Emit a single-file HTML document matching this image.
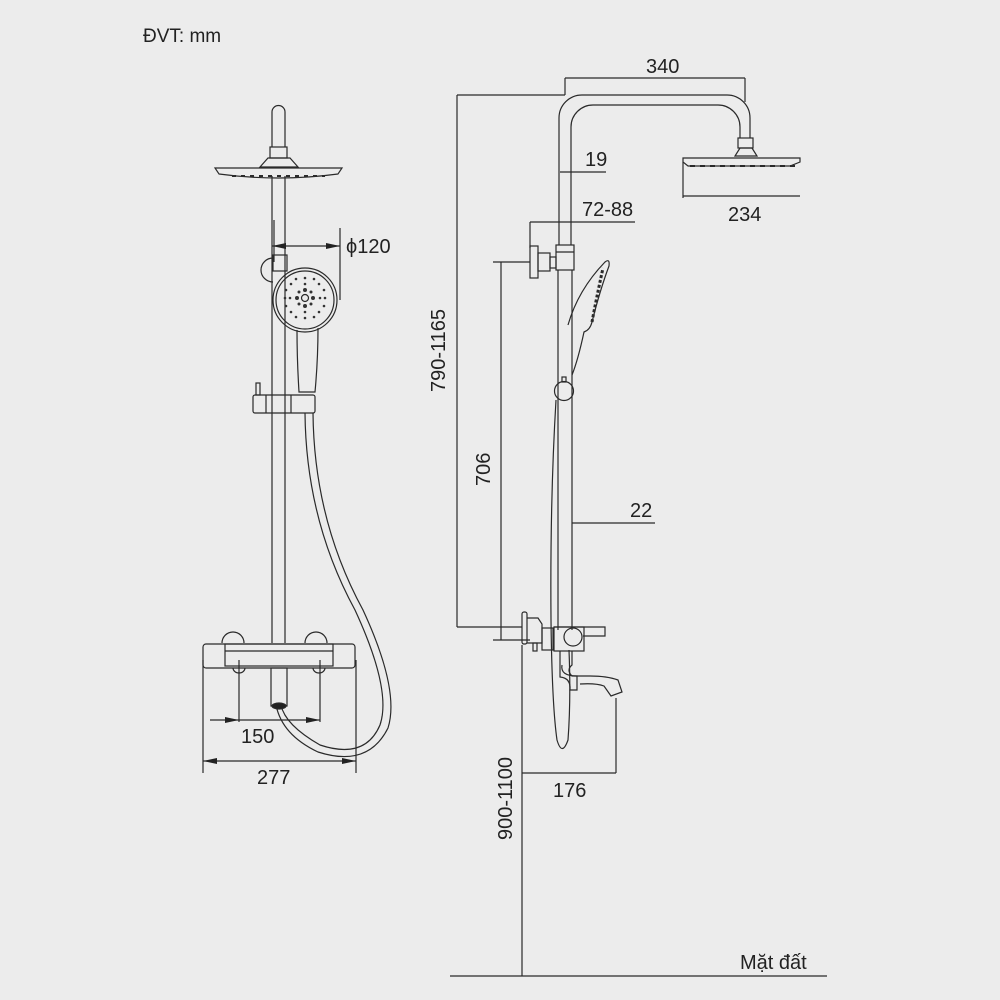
<!DOCTYPE html>
<html><head><meta charset="utf-8"><style>
html,body{margin:0;padding:0;background:#ececec}
svg{display:block}
text{font-family:"Liberation Sans",sans-serif;fill:#222}
</style></head><body>
<svg width="1000" height="1000" viewBox="0 0 1000 1000" xmlns="http://www.w3.org/2000/svg">
<rect width="1000" height="1000" fill="#ececec"/>
<text x="143" y="42" font-size="19">ĐVT: mm</text>
<g fill="none" stroke="#2a2a2a" stroke-width="1.2">
<!-- LEFT VIEW -->
<path d="M272 148 V112 a6.5 6.5 0 0 1 13 0 V148"/>
<rect x="270" y="147" width="17" height="11" fill="#ececec"/>
<path d="M268 158 L290 158 L298 167 L260 167 Z"/>
<path d="M215 168 H342 L338 174 Q278 182 219 174 Z"/>
<path d="M232 176 H325" stroke-dasharray="4 5" stroke-width="2"/>
<line x1="272" y1="176" x2="272" y2="643"/>
<line x1="285" y1="176" x2="285" y2="643"/>
<line x1="274" y1="220" x2="274" y2="262"/>
<!-- holder -->
<path d="M273 258 a12 12 0 0 0 0 24"/>
<rect x="273" y="255" width="14" height="16"/>
<!-- hand shower -->
<circle cx="305" cy="300" r="32"/>
<circle cx="305" cy="300" r="29"/>
<path d="M297 330 Q297 360 299 392 L315 392 Q318 360 318 328"/>
<circle cx="305" cy="298" r="3.5"/>
<g fill="#333" stroke="none">
<circle cx="305" cy="290" r="2"/><circle cx="305" cy="306" r="2"/><circle cx="297" cy="298" r="2"/><circle cx="313" cy="298" r="2"/>
<circle cx="299" cy="292" r="1.5"/><circle cx="311" cy="292" r="1.5"/><circle cx="299" cy="304" r="1.5"/><circle cx="311" cy="304" r="1.5"/>
<circle cx="305" cy="278" r="1.3"/><circle cx="305" cy="284" r="1.3"/><circle cx="305" cy="312" r="1.3"/><circle cx="305" cy="318" r="1.3"/>
<circle cx="285" cy="298" r="1.3"/><circle cx="290" cy="298" r="1.3"/><circle cx="320" cy="298" r="1.3"/><circle cx="325" cy="298" r="1.3"/>
<circle cx="291" cy="284" r="1.3"/><circle cx="319" cy="284" r="1.3"/><circle cx="291" cy="312" r="1.3"/><circle cx="319" cy="312" r="1.3"/>
<circle cx="296" cy="279" r="1.3"/><circle cx="314" cy="279" r="1.3"/><circle cx="286" cy="290" r="1.3"/><circle cx="324" cy="290" r="1.3"/>
<circle cx="286" cy="306" r="1.3"/><circle cx="324" cy="306" r="1.3"/><circle cx="296" cy="317" r="1.3"/><circle cx="314" cy="317" r="1.3"/>
</g>
<!-- slider -->
<rect x="253" y="395" width="62" height="18" rx="2"/>
<line x1="266" y1="395" x2="266" y2="413"/><line x1="291" y1="395" x2="291" y2="413"/>
<rect x="256" y="383" width="4" height="12"/>
<!-- hose -->
<path d="M305 413 Q306 520 355 610 Q392 690 380 725 Q365 760 320 745 Q285 725 281 705"/>
<path d="M313 413 Q314 520 363 610 Q400 690 388 728 Q368 768 318 752 Q282 735 276 705"/>
<!-- thermostat -->
<path d="M222 643 a11 11 0 0 1 22 0"/><path d="M305 643 a11 11 0 0 1 22 0"/>
<rect x="203" y="644" width="152" height="24" rx="3"/>
<rect x="225" y="644" width="108" height="22"/>
<line x1="225" y1="651" x2="333" y2="651"/>
<path d="M233 668 a6 5 0 0 0 12 0"/><path d="M313 668 a6 5 0 0 0 12 0"/>
<rect x="271" y="668" width="16" height="38"/>
<ellipse cx="279" cy="706" rx="7" ry="3" fill="#222"/>
<!-- left dims -->
<line x1="272" y1="246" x2="340" y2="246"/>
<line x1="340" y1="228" x2="340" y2="300"/>
<line x1="239" y1="660" x2="239" y2="722"/>
<line x1="320" y1="660" x2="320" y2="722"/>
<line x1="210" y1="720" x2="320" y2="720"/>
<line x1="203" y1="660" x2="203" y2="773"/>
<line x1="356" y1="660" x2="356" y2="773"/>
<line x1="203" y1="761" x2="356" y2="761"/>
<!-- RIGHT VIEW -->
<path d="M559 245 V118 a23 23 0 0 1 23 -23 H727 a23 23 0 0 1 23 23 V138"/>
<path d="M571 245 V127 a22 22 0 0 1 22 -22 H718 a22 22 0 0 1 22 22 V138"/>
<rect x="738" y="138" width="15" height="10"/>
<path d="M740 148 H752 L757 156 H735 Z"/>
<path d="M683 158 H800 V162 L790 166 H688 L683 162 Z"/>
<path d="M690 166 H795" stroke-dasharray="5 5" stroke-width="2"/>
<line x1="683" y1="162" x2="683" y2="198"/>
<line x1="683" y1="196" x2="800" y2="196"/>
<!-- valve top -->
<rect x="530" y="246" width="8" height="32"/>
<rect x="538" y="253" width="12" height="18"/>
<rect x="550" y="257" width="6" height="11"/>
<rect x="556" y="245" width="18" height="25"/>
<line x1="556" y1="252" x2="574" y2="252"/>
<line x1="558" y1="270" x2="558" y2="630"/>
<line x1="572" y1="270" x2="572" y2="630"/>
<!-- hand shower side -->
<path d="M568 325 Q578 290 605 262 Q610 258 609 266 Q600 290 592 322 Q590 330 584 332 Q578 360 572 375"/>
<path d="M592 322 Q596 300 603 268" stroke-dasharray="3 2" stroke-width="3"/>
<circle cx="564" cy="391" r="9.5"/>
<rect x="562" y="377" width="4" height="5"/>
<path d="M556 400 Q550 500 551 620 Q552 705 557 740 Q562 757 568 740 Q571 700 569 650"/>
<!-- bottom valve -->
<rect x="522" y="612" width="5" height="32" rx="2"/>
<path d="M527 618 H538 L542 624 V643 H527"/>
<rect x="542" y="628" width="11" height="22"/>
<rect x="533" y="643" width="4" height="8"/>
<path d="M554 627 H605 V636 H583"/>
<rect x="554" y="627" width="30" height="24"/>
<circle cx="573" cy="637" r="9"/>
<path d="M560 651 V677 Q571 678 570 690 H577 V676 Q560 676 562 665"/>
<path d="M572 651 V665 Q566 670 572 676 H590 Q607 676 618 680 L622 692 L611 696 L604 686 Q596 683 580 684"/>
<!-- right dims -->
<line x1="565" y1="78" x2="745" y2="78"/>
<line x1="565" y1="78" x2="565" y2="95"/>
<line x1="745" y1="78" x2="745" y2="102"/>
<line x1="560" y1="172" x2="606" y2="172"/>
<line x1="530" y1="222" x2="635" y2="222"/>
<line x1="530" y1="222" x2="530" y2="248"/>
<line x1="457" y1="95" x2="565" y2="95"/>
<line x1="457" y1="95" x2="457" y2="627"/>
<line x1="457" y1="627" x2="522" y2="627"/>
<line x1="493" y1="262" x2="530" y2="262"/>
<line x1="501" y1="262" x2="501" y2="640"/>
<line x1="493" y1="640" x2="530" y2="640"/>
<line x1="572" y1="523" x2="655" y2="523"/>
<line x1="522" y1="645" x2="522" y2="976"/>
<line x1="616" y1="698" x2="616" y2="773"/>
<line x1="522" y1="773" x2="616" y2="773"/>
<line x1="450" y1="976" x2="827" y2="976"/>
</g>
<g fill="#222">
<path d="M272 246 l14 -3 v6 z"/><path d="M340 246 l-14 -3 v6 z"/>
<path d="M239 720 l-14 -3 v6 z"/><path d="M320 720 l-14 -3 v6 z"/>
<path d="M203 761 l14 -3 v6 z"/><path d="M356 761 l-14 -3 v6 z"/>
</g>
<g font-size="20">
<text x="346" y="253">ϕ120</text>
<text x="241" y="743">150</text>
<text x="257" y="784">277</text>
<text x="646" y="73">340</text>
<text x="585" y="166">19</text>
<text x="582" y="216">72-88</text>
<text x="728" y="221">234</text>
<text x="630" y="517">22</text>
<text x="553" y="797">176</text>
<text x="740" y="969">Mặt đất</text>
<text transform="translate(445 392) rotate(-90)">790-1165</text>
<text transform="translate(490 486) rotate(-90)">706</text>
<text transform="translate(512 840) rotate(-90)">900-1100</text>
</g>
</svg>
</body></html>
